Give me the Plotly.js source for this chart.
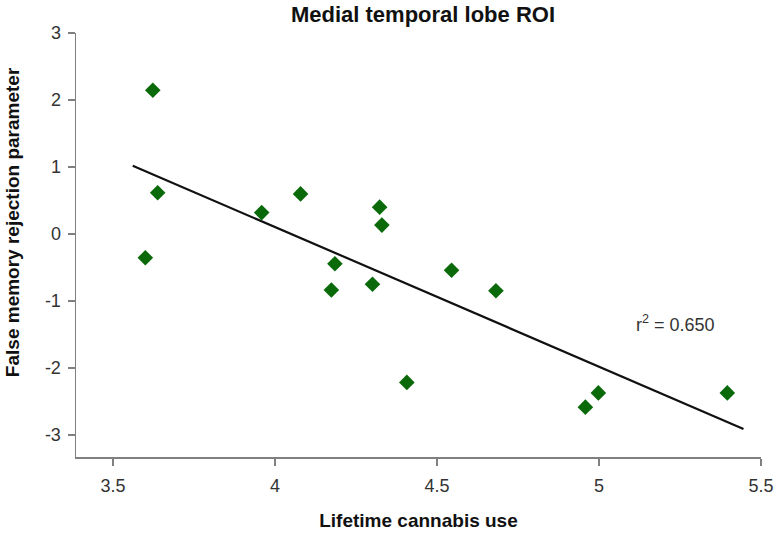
<!DOCTYPE html>
<html>
<head>
<meta charset="utf-8">
<script src="https://cdn.plot.ly/plotly-3.0.1.min.js"></script>
<style>html,body{margin:0;padding:0;background:#fff;}#chart{width:779px;height:533px;}</style>
</head>
<body>
<div id="chart"></div>
<script>
// Data
const cannabisUse = [3.623, 3.638, 3.600, 3.959, 4.079, 4.323, 4.330, 4.185, 4.174, 4.301, 4.545, 4.682, 4.407, 4.958, 4.998, 5.396];
const falseMemory = [2.145, 0.614, -0.355, 0.319, 0.598, 0.400, 0.132, -0.446, -0.837, -0.750, -0.543, -0.847, -2.216, -2.586, -2.373, -2.373];
const fitX = [3.561, 5.446];
const fitY = [1.019, -2.911];
const xTicks = [3.5, 4, 4.5, 5, 5.5];
const xTickLabels = ['3.5', '4', '4.5', '5', '5.5'];
const yTicks = [-3, -2, -1, 0, 1, 2, 3];
const yTickLabels = ['-3', '-2', '-1', '0', '1', '2', '3'];
const rSquared = '0.650';

const font = 'Liberation Sans, Arial, sans-serif';

const traces = [
  {
    x: fitX, y: fitY, mode: 'lines', type: 'scatter',
    line: {color: '#111111', width: 2.2}, hoverinfo: 'skip', showlegend: false
  },
  {
    x: cannabisUse, y: falseMemory, mode: 'markers', type: 'scatter',
    marker: {symbol: 'diamond', size: 12, color: '#0a6a0a'}, showlegend: false
  }
];

const layout = {
  width: 779, height: 533,
  margin: {l: 76, r: 18, t: 33, b: 76},
  paper_bgcolor: '#ffffff', plot_bgcolor: '#ffffff',
  font: {family: font, color: '#222222'},
  title: {
    text: '<b>Medial temporal lobe ROI</b>',
    font: {family: font, size: 22, color: '#111111'},
    x: 0.543, xanchor: 'center', y: 0.974, yanchor: 'middle'
  },
  xaxis: {
    range: [3.386, 5.5],
    tickvals: xTicks, ticktext: xTickLabels,
    ticks: 'outside', ticklen: 7, tickwidth: 1.5, tickcolor: '#808080',
    ticklabelstandoff: 5,
    showline: true, linecolor: '#808080', linewidth: 1.5,
    showgrid: false, zeroline: false,
    tickfont: {family: font, size: 18, color: '#333333'},
    title: {text: '<b>Lifetime cannabis use</b>', font: {family: font, size: 19, color: '#111111'}, standoff: 18}
  },
  yaxis: {
    range: [-3.33, 3.0],
    tickvals: yTicks, ticktext: yTickLabels,
    ticks: 'outside', ticklen: 7, tickwidth: 1.5, tickcolor: '#808080',
    ticklabelstandoff: 3,
    showline: true, linecolor: '#808080', linewidth: 1.5,
    showgrid: false, zeroline: false,
    tickfont: {family: font, size: 18, color: '#333333'}
  },
  annotations: [
    {
      x: 5.235, y: -1.33, xref: 'x', yref: 'y',
      text: 'r<sup>2</sup> = ' + rSquared, showarrow: false,
      font: {family: font, size: 18, color: '#333333'}
    },
    {
      x: -0.0934, y: 0.554, xref: 'paper', yref: 'paper',
      xanchor: 'center', yanchor: 'middle', textangle: -90,
      text: '<b>False memory rejection parameter</b>', showarrow: false,
      font: {family: font, size: 19, color: '#111111'}
    }
  ]
};

Plotly.newPlot('chart', traces, layout, {displayModeBar: false, staticPlot: true});
</script>
</body>
</html>
